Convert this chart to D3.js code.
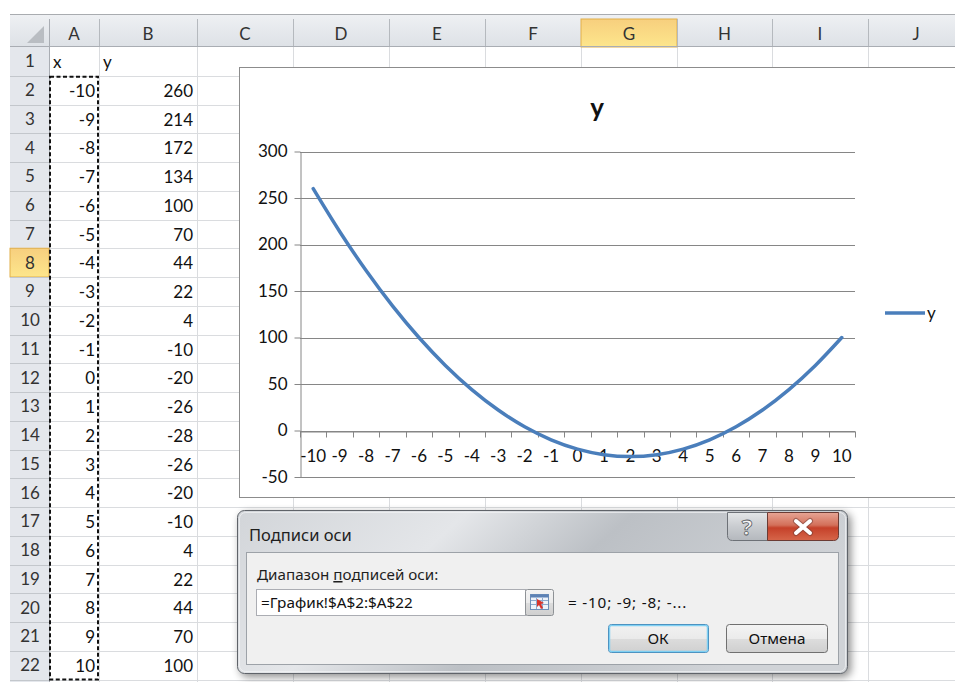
<!DOCTYPE html>
<html>
<head>
<meta charset="utf-8">
<script src="https://cdn.jsdelivr.net/npm/d3@7"></script>
<style>
  body { margin: 0; background: #fff; overflow: hidden; }
  text { font-family: Lato, "Open Sans", sans-serif; }
  .ui text { font-family: "Noto Sans", "Open Sans", sans-serif; }
</style>
</head>
<body>
<svg id="sheet" width="955" height="682"></svg>
<script>
// data read from the sheet
var xValues = [-10, -9, -8, -7, -6, -5, -4, -3, -2, -1, 0, 1, 2, 3, 4, 5, 6, 7, 8, 9, 10];
var yValues = [260, 214, 172, 134, 100, 70, 44, 22, 4, -10, -20, -26, -28, -26, -20, -10, 4, 22, 44, 70, 100];
var yTicks = [-50, 0, 50, 100, 150, 200, 250, 300];
var columnLetters = ["A", "B", "C", "D", "E", "F", "G", "H", "I", "J"];
var headerX = "x", headerY = "y";
var seriesName = "y";
var dialogTitle = "Подписи оси";
var rangeLabel = ["Диапазон ", "п", "одписей оси:"];
var rangeRef = "=График!$A$2:$A$22";
var rangePreview = "= -10; -9; -8; -...";
var okLabel = "ОК", cancelLabel = "Отмена";

var svg = d3.select("#sheet");
var defs = svg.append("defs");
var sheetFont = 17;

// ---- spreadsheet grid ----
var colEdges = [49, 99, 197, 293, 389, 485, 581, 677, 772, 868, 964];
var headTop = 15, headBottom = 47, rowH = 28.75, nRows = 22;
var rowTop = function (r) { return headBottom + (r - 1) * rowH; };
var activeCol = 6, activeRow = 8;

var hg = defs.append("linearGradient").attr("id", "hdr").attr("x1", 0).attr("y1", 0).attr("x2", 0).attr("y2", 1);
hg.append("stop").attr("offset", 0).attr("stop-color", "#eef0f3");
hg.append("stop").attr("offset", 1).attr("stop-color", "#dde1e6");
var ag = defs.append("linearGradient").attr("id", "act").attr("x1", 0).attr("y1", 0).attr("x2", 0).attr("y2", 1);
ag.append("stop").attr("offset", 0).attr("stop-color", "#f7cf7e");
ag.append("stop").attr("offset", 1).attr("stop-color", "#fde68c");

svg.append("line").attr("x1", 10).attr("x2", 955).attr("y1", 14.5).attr("y2", 14.5)
  .attr("stroke", "#a9acb0");
svg.append("rect").attr("x", 10).attr("y", headTop).attr("width", 945).attr("height", headBottom - headTop)
  .attr("fill", "url(#hdr)");
svg.append("rect").attr("x", 10).attr("y", headBottom).attr("width", 39).attr("height", 682 - headBottom)
  .attr("fill", "#e4e7ec");

// cell grid lines
var grid = svg.append("g").attr("stroke", "#dadcdf").attr("shape-rendering", "crispEdges");
d3.range(1, nRows + 1).forEach(function (r) {
  grid.append("line").attr("x1", 49).attr("x2", 955)
    .attr("y1", Math.round(rowTop(r + 1)) + 0.5).attr("y2", Math.round(rowTop(r + 1)) + 0.5);
});
colEdges.slice(1).forEach(function (cx) {
  grid.append("line").attr("x1", cx + 0.5).attr("x2", cx + 0.5).attr("y1", headBottom).attr("y2", 682);
});

// column headers
var colHead = svg.append("g");
columnLetters.forEach(function (c, i) {
  var x0 = colEdges[i], x1 = colEdges[i + 1];
  if (i === activeCol) {
    colHead.append("rect").attr("x", x0).attr("y", headTop + 4).attr("width", x1 - x0).attr("height", headBottom - headTop - 4)
      .attr("fill", "url(#act)").attr("stroke", "#e2b04b");
  }
  colHead.append("line").attr("x1", x1 + 0.5).attr("x2", x1 + 0.5).attr("y1", headTop + 4).attr("y2", headBottom)
    .attr("stroke", "#b5b9be");
  colHead.append("text").attr("x", (x0 + x1) / 2).attr("y", 40).attr("text-anchor", "middle")
    .attr("font-size", sheetFont).attr("fill", "#333").text(c);
});
colHead.append("line").attr("x1", 10).attr("x2", 955).attr("y1", headBottom - 0.5).attr("y2", headBottom - 0.5)
  .attr("stroke", "#a9adb3");
colHead.append("line").attr("x1", 49.5).attr("x2", 49.5).attr("y1", headTop + 4).attr("y2", 682)
  .attr("stroke", "#a9adb3");
// select-all corner triangle
colHead.append("path").attr("d", "M44,43 L44,26 L27,43 Z").attr("fill", "#b9bdc2");

// row headers
var rowHead = svg.append("g");
d3.range(1, nRows + 1).forEach(function (r) {
  var t = rowTop(r);
  if (r === activeRow) {
    rowHead.append("rect").attr("x", 10).attr("y", t).attr("width", 39).attr("height", rowH)
      .attr("fill", "url(#act)").attr("stroke", "#e2b04b");
  }
  rowHead.append("line").attr("x1", 10).attr("x2", 49).attr("y1", Math.round(t + rowH) + 0.5).attr("y2", Math.round(t + rowH) + 0.5)
    .attr("stroke", "#c3c7cc");
  rowHead.append("text").attr("x", 30).attr("y", t + rowH / 2 + 6).attr("text-anchor", "middle")
    .attr("font-size", sheetFont).attr("fill", "#333").text(r);
});

// cell values
var cells = svg.append("g").attr("font-size", sheetFont).attr("fill", "#111");
cells.append("text").attr("x", 53).attr("y", rowTop(1) + 21).text(headerX);
cells.append("text").attr("x", 103).attr("y", rowTop(1) + 21).text(headerY);
xValues.forEach(function (v, i) {
  var base = rowTop(i + 2) + 21;
  cells.append("text").attr("x", 95).attr("y", base).attr("text-anchor", "end").text(v);
  cells.append("text").attr("x", 193).attr("y", base).attr("text-anchor", "end").text(yValues[i]);
});

// copy marquee around A2:A22
svg.append("rect").attr("x", 50).attr("y", rowTop(2) + 1).attr("width", 48).attr("height", rowTop(23) - rowTop(2) - 1)
  .attr("fill", "none").attr("stroke", "#111").attr("stroke-width", 2).attr("stroke-dasharray", "4 2.5");

// ---- chart ----
svg.append("rect").attr("x", 239.5).attr("y", 67.5).attr("width", 730).attr("height", 430)
  .attr("fill", "#fff").attr("stroke", "#8c8c8c");

var plot = { left: 300, right: 855, top: 151.5, bottom: 477 };
var x = d3.scaleBand().domain(xValues).range([plot.left, plot.right]);
var y = d3.scaleLinear().domain([-50, 300]).range([plot.bottom, plot.top]);

var chart = svg.append("g");
chart.append("g").selectAll("line").data(yTicks).enter().append("line")
  .attr("x1", plot.left).attr("x2", plot.right)
  .attr("y1", function (d) { return Math.round(y(d)) + 0.5; })
  .attr("y2", function (d) { return Math.round(y(d)) + 0.5; })
  .attr("stroke", "#868686");

var yAxis = chart.append("g").attr("transform", "translate(" + (plot.left + 0.5) + ",0)")
  .call(d3.axisLeft(y).tickValues(yTicks).tickFormat(function (d) { return String(d); })
    .tickSize(6).tickSizeOuter(0).tickPadding(7));
yAxis.select(".domain").attr("stroke", "#868686");
yAxis.selectAll(".tick line").attr("stroke", "#868686");
yAxis.selectAll(".tick text").attr("font-size", 17).attr("fill", "#111")
  .attr("font-family", "Lato, 'Open Sans', sans-serif");

var x0y = Math.round(y(0)) + 0.5;
var xAxis = chart.append("g").attr("transform", "translate(0," + x0y + ")")
  .call(d3.axisBottom(x).tickSize(0).tickSizeOuter(0).tickPadding(18));
xAxis.select(".domain").attr("stroke", "#868686");
xAxis.selectAll(".tick text").attr("font-size", 17).attr("fill", "#111")
  .attr("font-family", "Lato, 'Open Sans', sans-serif");
chart.append("g").selectAll("line").data(d3.range(xValues.length + 1)).enter().append("line")
  .attr("x1", function (i) { return Math.round(plot.left + i * x.step()) + 0.5; })
  .attr("x2", function (i) { return Math.round(plot.left + i * x.step()) + 0.5; })
  .attr("y1", x0y).attr("y2", x0y + 6).attr("stroke", "#868686");

var line = d3.line()
  .x(function (d, i) { return x(xValues[i]) + x.bandwidth() / 2; })
  .y(function (d) { return y(d); })
  .curve(d3.curveCatmullRom.alpha(0.5));
chart.append("path").datum(yValues).attr("d", line)
  .attr("fill", "none").attr("stroke", "#4a7ebb").attr("stroke-width", 3.5).attr("stroke-linecap", "round");

chart.append("text").attr("x", 597).attr("y", 117).attr("text-anchor", "middle")
  .attr("font-size", 26).attr("font-weight", "bold").attr("fill", "#111").text(seriesName);

chart.append("line").attr("x1", 885).attr("x2", 925).attr("y1", 313).attr("y2", 313)
  .attr("stroke", "#4a7ebb").attr("stroke-width", 3.5);
chart.append("text").attr("x", 927).attr("y", 319).attr("font-size", 17).attr("fill", "#111").text(seriesName);

// ---- dialog ----
var sh = defs.append("filter").attr("id", "shadow").attr("x", "-5%").attr("y", "-10%").attr("width", "115%").attr("height", "130%");
sh.append("feGaussianBlur").attr("in", "SourceAlpha").attr("stdDeviation", 4);
sh.append("feOffset").attr("dx", 3).attr("dy", 3).attr("result", "b");
sh.append("feComponentTransfer").append("feFuncA").attr("type", "linear").attr("slope", 0.45);
var fm = sh.append("feMerge");
fm.append("feMergeNode");
fm.append("feMergeNode").attr("in", "SourceGraphic");

var fg = defs.append("linearGradient").attr("id", "frame").attr("x1", 0).attr("y1", 0).attr("x2", 1).attr("y2", 0.3);
fg.append("stop").attr("offset", 0).attr("stop-color", "#d2d5d9");
fg.append("stop").attr("offset", 0.35).attr("stop-color", "#e4e6e9");
fg.append("stop").attr("offset", 0.6).attr("stop-color", "#bcc0c5");
fg.append("stop").attr("offset", 1).attr("stop-color", "#d0d3d7");
var bg = defs.append("linearGradient").attr("id", "btn").attr("x1", 0).attr("y1", 0).attr("x2", 0).attr("y2", 1);
bg.append("stop").attr("offset", 0).attr("stop-color", "#f4f4f4");
bg.append("stop").attr("offset", 0.5).attr("stop-color", "#ebebeb");
bg.append("stop").attr("offset", 0.51).attr("stop-color", "#dddddd");
bg.append("stop").attr("offset", 1).attr("stop-color", "#cfcfcf");
var okg = defs.append("linearGradient").attr("id", "okbtn").attr("x1", 0).attr("y1", 0).attr("x2", 0).attr("y2", 1);
okg.append("stop").attr("offset", 0).attr("stop-color", "#f2f2f2");
okg.append("stop").attr("offset", 0.5).attr("stop-color", "#eaeaea");
okg.append("stop").attr("offset", 0.51).attr("stop-color", "#dcdcdc");
okg.append("stop").attr("offset", 1).attr("stop-color", "#d0d0d0");
var rg = defs.append("linearGradient").attr("id", "closebtn").attr("x1", 0).attr("y1", 0).attr("x2", 0).attr("y2", 1);
rg.append("stop").attr("offset", 0).attr("stop-color", "#e7a595");
rg.append("stop").attr("offset", 0.45).attr("stop-color", "#d3705a");
rg.append("stop").attr("offset", 0.55).attr("stop-color", "#c5412a");
rg.append("stop").attr("offset", 1).attr("stop-color", "#d6664a");
var hbg = defs.append("linearGradient").attr("id", "helpbtn").attr("x1", 0).attr("y1", 0).attr("x2", 0).attr("y2", 1);
hbg.append("stop").attr("offset", 0).attr("stop-color", "#e4e6e8");
hbg.append("stop").attr("offset", 0.5).attr("stop-color", "#c9ccd0");
hbg.append("stop").attr("offset", 1).attr("stop-color", "#b4b8bd");

var dlg = svg.append("g").attr("class", "ui");
dlg.append("rect").attr("x", 237.5).attr("y", 510.5).attr("width", 610).attr("height", 163).attr("rx", 7)
  .attr("fill", "url(#frame)").attr("stroke", "#5e6369").attr("filter", "url(#shadow)");
dlg.append("rect").attr("x", 239.5).attr("y", 512.5).attr("width", 606).attr("height", 159).attr("rx", 6)
  .attr("fill", "none").attr("stroke", "#f2f3f5").attr("stroke-opacity", 0.7);
dlg.append("rect").attr("x", 246.5).attr("y", 552.5).attr("width", 592).attr("height", 112)
  .attr("fill", "#f0f0f0").attr("stroke", "#9da2a8");
dlg.append("text").attr("x", 249).attr("y", 541).attr("font-size", 16.5).attr("fill", "#1e1e1e")
  .text(dialogTitle);

// caption buttons
dlg.append("path").attr("d", "M727.5,512.5 L767.5,512.5 L767.5,540.5 L732.5,540.5 Q727.5,540.5 727.5,535.5 Z")
  .attr("fill", "url(#helpbtn)").attr("stroke", "#6d7177");
dlg.append("text").attr("x", 747).attr("y", 535).attr("text-anchor", "middle").attr("font-size", 22)
  .attr("font-weight", "bold").attr("fill", "#f4f4f4").attr("stroke", "#555a60").attr("stroke-width", 0.8)
  .text("?");
dlg.append("path").attr("d", "M767.5,512.5 L838.5,512.5 L838.5,535.5 Q838.5,540.5 833.5,540.5 L767.5,540.5 Z")
  .attr("fill", "url(#closebtn)").attr("stroke", "#6b3b34");
dlg.append("path").attr("d", "M796,521 L810,533 M810,521 L796,533")
  .attr("stroke", "#6a3a33").attr("stroke-width", 6).attr("stroke-linecap", "round").attr("stroke-opacity", 0.5);
dlg.append("path").attr("d", "M796,521 L810,533 M810,521 L796,533")
  .attr("stroke", "#fff").attr("stroke-width", 4).attr("stroke-linecap", "round");

var lbl = dlg.append("text").attr("x", 257).attr("y", 580).attr("font-size", 15.2).attr("fill", "#1e1e1e");
lbl.append("tspan").text(rangeLabel[0]);
lbl.append("tspan").attr("text-decoration", "underline").text(rangeLabel[1]);
lbl.append("tspan").text(rangeLabel[2]);

dlg.append("rect").attr("x", 256.5).attr("y", 589.5).attr("width", 269).attr("height", 26)
  .attr("fill", "#fff").attr("stroke", "#abadb3");
dlg.append("text").attr("x", 261).attr("y", 608).attr("font-size", 15.3).attr("fill", "#111").text(rangeRef);
// range picker button
dlg.append("rect").attr("x", 525.5).attr("y", 589.5).attr("width", 28).attr("height", 26).attr("rx", 2)
  .attr("fill", "url(#btn)").attr("stroke", "#8e9296");
var ic = dlg.append("g").attr("transform", "translate(530,594)");
ic.append("rect").attr("x", 0.5).attr("y", 0.5).attr("width", 18).attr("height", 15).attr("fill", "#eef3fa").attr("stroke", "#6f8fb8");
ic.append("rect").attr("x", 0.5).attr("y", 0.5).attr("width", 18).attr("height", 3).attr("fill", "#5d82b5");
[6.5, 10.5].forEach(function (yy) {
  ic.append("line").attr("x1", 1).attr("x2", 18).attr("y1", yy).attr("y2", yy).attr("stroke", "#8fa9cc");
});
[6.5, 12.5].forEach(function (xx) {
  ic.append("line").attr("x1", xx).attr("x2", xx).attr("y1", 4).attr("y2", 15).attr("stroke", "#8fa9cc");
});
ic.append("path").attr("d", "M7,5 L14,9 L11,10 L13,14 L11,15 L9,11 L7,13 Z").attr("fill", "#d9332a");

dlg.append("text").attr("x", 568).attr("y", 608).attr("font-size", 15.3).attr("letter-spacing", 0.8)
  .attr("fill", "#111").text(rangePreview);

// OK / Cancel
dlg.append("rect").attr("x", 608.5).attr("y", 624.5).attr("width", 100).attr("height", 28).attr("rx", 3)
  .attr("fill", "url(#okbtn)").attr("stroke", "#3c7fb1");
dlg.append("rect").attr("x", 609.5).attr("y", 625.5).attr("width", 98).attr("height", 26).attr("rx", 2)
  .attr("fill", "none").attr("stroke", "#7fd0f3").attr("stroke-width", 1.5);
dlg.append("text").attr("x", 658).attr("y", 644).attr("text-anchor", "middle").attr("font-size", 15.3)
  .attr("fill", "#111").text(okLabel);
dlg.append("rect").attr("x", 726.5).attr("y", 624.5).attr("width", 101).attr("height", 28).attr("rx", 3)
  .attr("fill", "url(#btn)").attr("stroke", "#707070");
dlg.append("text").attr("x", 777).attr("y", 644).attr("text-anchor", "middle").attr("font-size", 15.3)
  .attr("fill", "#111").text(cancelLabel);
</script>
</body>
</html>
